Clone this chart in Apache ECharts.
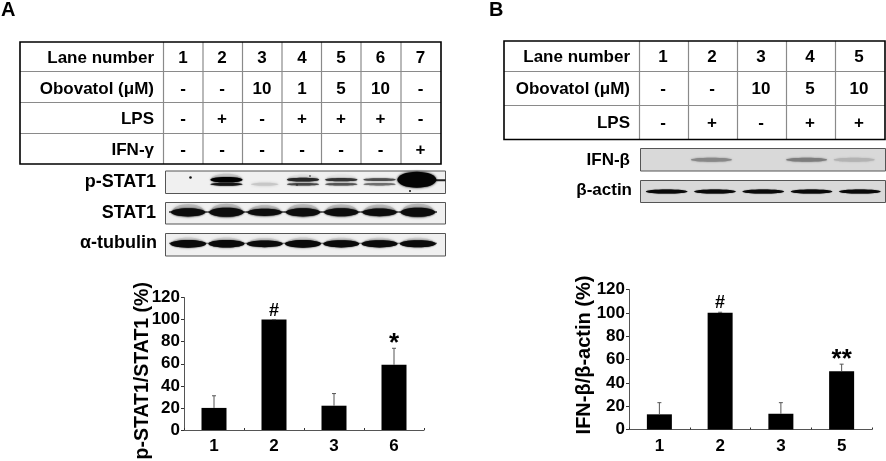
<!DOCTYPE html>
<html><head><meta charset="utf-8">
<style>html,body{margin:0;padding:0;background:#fff}#c{width:886px;height:461px}</style>
<script src="https://cdn.jsdelivr.net/npm/echarts@6/dist/echarts.min.js"></script>
</head><body><div id="c"></div>
<script>
// ---------- data ----------
const barCatsA = ['1','2','3','6'];
const barValsA = [20, 100, 22, 59];
const barUpperA = [31, 100, 33, 74];
const barMarksA = ['', '#', '', '*'];
const barCatsB = ['1','2','3','5'];
const barValsB = [13, 100, 13.5, 50];
const barUpperB = [23, 100.5, 23, 56];
const barMarksB = ['', '#', '', '**'];
const yTicks = [0,20,40,60,80,100,120];
const laneNamesA = ['Lane number','Obovatol (\u03bcM)','LPS','IFN-\u03b3'];
const laneRowsA = [
  ['1','2','3','4','5','6','7'],
  ['-','-','10','1','5','10','-'],
  ['-','+','-','+','+','+','-'],
  ['-','-','-','-','-','-','+']];
const laneNamesB = ['Lane number','Obovatol (\u03bcM)','LPS'];
const laneRowsB = [
  ['1','2','3','4','5'],
  ['-','-','10','5','10'],
  ['-','+','-','+','+']];
const bandsPStat = [0, 0.8, 0.12, 0.6, 0.55, 0.45, 1];
const bandsStat = [0.85, 1, 0.65, 0.85, 0.8, 0.75, 1];
const bandsTub = [0.95, 0.9, 0.75, 0.95, 0.85, 0.85, 0.8];
const bandsIfn = [0, 0.55, 0, 0.6, 0.35];
const bandsActin = [1, 1, 1, 1, 1];
const blotNamesA = ['p-STAT1','STAT1','\u03b1-tubulin'];
const blotNamesB = ['IFN-\u03b2','\u03b2-actin'];

// ---------- layout ----------
const F = '"Liberation Sans", Arial, sans-serif';
const tableA = {x:[20,163.5,203,242.5,282,321.5,361,401,441], y:[42,71.5,102.5,133.5,164], labelX:154, cy:[58,89,119.5,150], cx:[183,222,262,302,341,380.5,420.5]};
const tableB = {x:[504,639.5,688.5,737.5,786.5,835.5,885], y:[41,71.5,105.5,139.5], labelX:630, cy:[57.5,89.5,123.5], cx:[663,712,761,810,859]};
const stripsA = [{x:165.5,y:171,w:280,h:22.5},{x:165.5,y:202.5,w:280,h:21.5},{x:165.5,y:233.5,w:280,h:22.5}];
const stripsB = [{x:640.5,y:148.5,w:245,h:22.5},{x:640.5,y:180.5,w:245,h:22}];
const labelsA = [{x:156,y:182.5},{x:156,y:213},{x:157,y:243}];
const labelsB = [{x:630,y:160},{x:632,y:190.5}];

const g = [];
function tableGraphic(t, names, rows){
  const x0=t.x[0], x1=t.x[t.x.length-1], y0=t.y[0], y1=t.y[t.y.length-1];
  t.x.slice(1,-1).forEach(x=>g.push({type:'line',shape:{x1:x,y1:y0,x2:x,y2:y1},style:{stroke:'#8a8a8a',lineWidth:1.2}}));
  t.y.slice(1,-1).forEach(y=>g.push({type:'line',shape:{x1:x0,y1:y,x2:x1,y2:y},style:{stroke:'#8a8a8a',lineWidth:1.2}}));
  g.push({type:'rect',shape:{x:x0,y:y0,width:x1-x0,height:y1-y0},style:{fill:'none',stroke:'#000',lineWidth:1.6}});
  names.forEach((n,i)=>g.push({type:'text',x:t.labelX,y:t.cy[i],style:{text:n,font:'bold 17px '+F,fill:'#000',textAlign:'right',textVerticalAlign:'middle'}}));
  rows.forEach((r,i)=>r.forEach((s,j)=>g.push({type:'text',x:t.cx[j],y:t.cy[i],style:{text:s,font:'bold 17px '+F,fill:'#000',textAlign:'center',textVerticalAlign:'middle'}})));
}
tableGraphic(tableA, laneNamesA, laneRowsA);
tableGraphic(tableB, laneNamesB, laneRowsB);
function strip(s,fill){g.push({type:'rect',z:0,shape:{x:s.x,y:s.y,width:s.w,height:s.h},style:{fill:fill,stroke:'#555',lineWidth:1}});}
stripsA.forEach(s=>strip(s,'#f0f0f0'));
stripsB.forEach(s=>strip(s,'#d9d9d9'));
function blotLabels(names,pos,size){names.forEach((n,i)=>g.push({type:'text',x:pos[i].x,y:pos[i].y,style:{text:n,font:'bold '+size+'px '+F,fill:'#000',textAlign:'right',textVerticalAlign:'middle'}}));}
blotLabels(blotNamesA,labelsA,18); blotLabels(blotNamesB,labelsB,17);
g.push({type:'text',x:1,y:10.5,style:{text:'A',font:'bold 20px '+F,fill:'#000',textVerticalAlign:'middle'}});
g.push({type:'text',x:489,y:10.5,style:{text:'B',font:'bold 20px '+F,fill:'#000',textVerticalAlign:'middle'}});
[[190.5,177.5,1.3],[310,176,0.8],[297,185,0.7],[410,191,1]].forEach(p=>g.push({type:'circle',z:5,shape:{cx:p[0],cy:p[1],r:p[2]},style:{fill:'#111'}}));

// ---------- series helpers ----------
function bandSeries(idx, vals, draw){
  return {type:'custom',xAxisIndex:idx,yAxisIndex:idx,silent:true,clip:false,z:3,
    data:vals.map((v,i)=>[i,v]),
    encode:{x:0,y:1},
    renderItem(p,api){
      const v=api.value(1); if(!v) return {type:'group',children:[]};
      const c=api.coord([api.value(0),0.5]); const bw=api.size([1,0])[0];
      return {type:'group',children:draw(c[0],c[1],bw,v)};
    }};
}
function band(cx,cy,w,h,col,blur){
  return {type:'ellipse',shape:{cx:cx,cy:cy,rx:w/2,ry:h/2},style:{fill:col,shadowBlur:blur,shadowColor:col}};
}
function gray(v){const a=Math.round(255-255*Math.min(v,1));return 'rgb('+a+','+a+','+a+')';}
function drawPStat(cx,cy,bw,v){
  if(v>=1) return [
    {type:'rect',shape:{x:cx+bw/2-6,y:cy-3,width:bw*0.38,height:2},style:{fill:'#222'}},
    band(cx-1,cy-2.5,bw*1.02,16,'#050505',2.5)];
  if(v<0.2) return [band(cx,cy+2,bw*0.72,3,gray(0.22),3)];
  const halo=band(cx,cy-3,bw*0.8,6+6*v,gray(v*v*0.35),3);
  const up=band(cx,cy-2.6,bw*0.84,1.5+6*v*v,gray(v+0.25),1.5);
  const lo=band(cx,cy+2,bw*0.84,1.4+2*v,gray(v+0.12),1.5);
  return [halo,up,lo];
}
function drawStat(cx,cy,bw,v){return [
  {type:'rect',shape:{x:cx-bw/2,y:cy-2,width:bw,height:1.6},style:{fill:'#333'}},
  band(cx,cy-2.5,bw*0.8,6+8*v,gray(0.28),3),
  band(cx,cy-1,bw*0.9,4+5*v,'#0d0d0d',2)];}
function drawTub(cx,cy,bw,v){return [
  {type:'rect',shape:{x:cx-bw/2,y:cy-2,width:bw,height:1},style:{fill:'#555'}},
  band(cx,cy-2,bw*0.82,5+6*v,gray(0.2),3),
  band(cx,cy-1,bw*0.94,3+5*v,'#0a0a0a',1.5)];}
function drawIfn(cx,cy,bw,v){return [band(cx,cy,bw*0.86,4,gray(v*0.85),2)];}
function drawActin(cx,cy,bw,v){return [band(cx,cy,bw*0.86,4.2,'#0a0a0a',1)];}

function bar(idx,vals,upper,marks){
  return [
    {type:'bar',xAxisIndex:idx,yAxisIndex:idx,data:vals,barWidth:25,itemStyle:{color:'#000'},silent:true,z:2},
    {type:'custom',xAxisIndex:idx,yAxisIndex:idx,silent:true,z:3,clip:false,
      data:vals.map((v,i)=>[i,v,upper[i],marks[i]]),
      encode:{x:0,y:2},
      renderItem(p,api){
        const i=api.value(0),lo=api.coord([i,api.value(1)]),hi=api.coord([i,api.value(2)]);
        const m=marks[i];
        return {type:'group',children:[
          {type:'line',shape:{x1:lo[0],y1:lo[1],x2:hi[0],y2:hi[1]},style:{stroke:'#555',lineWidth:1}},
          {type:'line',shape:{x1:hi[0]-2,y1:hi[1],x2:hi[0]+2,y2:hi[1]},style:{stroke:'#555',lineWidth:1}},
          {type:'text',x:hi[0],y:hi[1]-(m==='#'?0:-9),style:{text:m,font:'bold '+(m==='#'?18:26)+'px '+F,fill:'#000',textAlign:'center',textVerticalAlign:'bottom'}}
        ]};
      }}
  ];
}

// ---------- axes ----------
const axisLine={lineStyle:{color:'#555',width:1}};
function barX(idx,cats){return {gridIndex:idx,type:'category',data:cats,axisLine:{show:true,onZero:false,...axisLine},axisTick:{show:true,inside:true,length:2,lineStyle:{color:'#333'}},axisLabel:{color:'#000',fontFamily:F,fontWeight:'bold',fontSize:17,margin:8},splitLine:{show:false}};}
function barY(idx,name,gap,pad,size){return {gridIndex:idx,type:'value',min:0,max:120,interval:20,name:name,nameLocation:'middle',nameGap:gap,nameRotate:90,nameMoveOverlap:false,
  nameTextStyle:{color:'#000',fontFamily:F,fontWeight:'bold',fontSize:size,padding:pad},
  axisLine:{show:true,...axisLine},axisTick:{show:true,length:3,lineStyle:{color:'#333'}},axisLabel:{color:'#000',fontFamily:F,fontWeight:'bold',fontSize:17,margin:4,customValues:yTicks},splitLine:{show:false}};}
function hiddenX(idx,n){return {gridIndex:idx,type:'category',data:Array.from({length:n},(_,i)=>String(i+1)),show:false};}
function hiddenY(idx){return {gridIndex:idx,type:'value',min:0,max:1,show:false};}

const grids=[
 {left:184,top:297.5,width:240,height:132.5,outerBoundsMode:'none'},
 {left:629,top:289.5,width:243,height:140,outerBoundsMode:'none'},
 {left:169,top:171,width:268,height:22.5,outerBoundsMode:'none'},
 {left:169,top:202.5,width:268,height:21.5,outerBoundsMode:'none'},
 {left:169,top:233.5,width:268,height:22.5,outerBoundsMode:'none'},
 {left:640,top:148.5,width:238,height:22.5,outerBoundsMode:'none'},
 {left:642.5,top:180.5,width:241.5,height:22,outerBoundsMode:'none'}
];
const option={
  animation:false,backgroundColor:'#fff',
  grid:grids,
  xAxis:[barX(0,barCatsA),barX(1,barCatsB),hiddenX(2,7),hiddenX(3,7),hiddenX(4,7),hiddenX(5,5),hiddenX(6,5)],
  yAxis:[barY(0,'p-STAT1/STAT1 (%)',31,[0,14,0,0],19.5),barY(1,'IFN-\u03b2/\u03b2-actin (%)',35,[0,0,0,9],20),hiddenY(2),hiddenY(3),hiddenY(4),hiddenY(5),hiddenY(6)],
  series:[
    ...bar(0,barValsA,barUpperA,barMarksA),
    ...bar(1,barValsB,barUpperB,barMarksB),
    bandSeries(2,bandsPStat,drawPStat),
    bandSeries(3,bandsStat,drawStat),
    bandSeries(4,bandsTub,drawTub),
    bandSeries(5,bandsIfn,drawIfn),
    bandSeries(6,bandsActin,drawActin)
  ],
  graphic:{elements:g}
};
const chart=echarts.init(document.getElementById('c'),null,{renderer:'canvas'});
chart.setOption(option);
</script></body></html>
